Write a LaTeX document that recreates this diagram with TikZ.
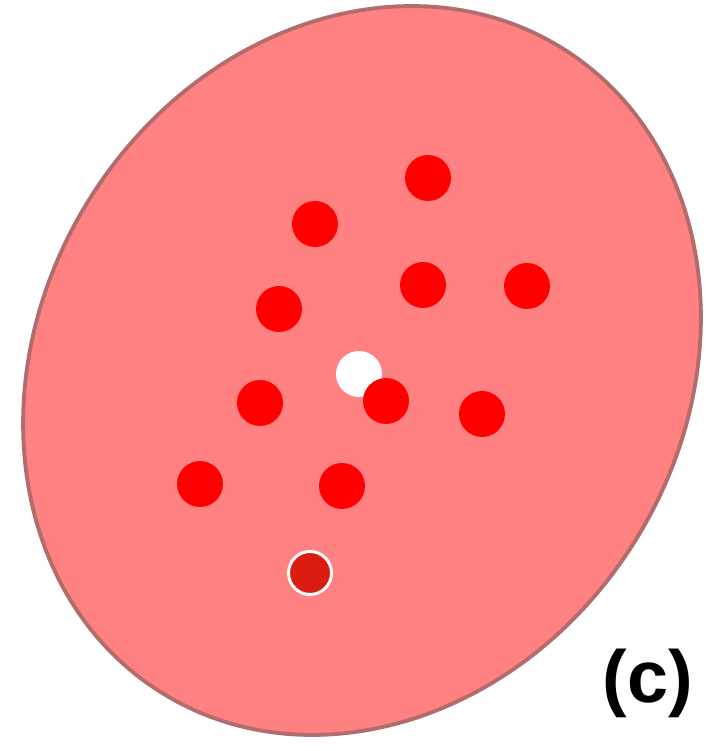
\documentclass[tikz,border=0pt]{standalone}
\usepackage{fontspec}
\usepackage{tikz}
\usetikzlibrary{shapes.geometric}
\newfontfamily\labelfont{Liberation Sans}
\definecolor{CellPink}{HTML}{FF8181}
\definecolor{CellRim}{HTML}{B26C6C}
\definecolor{DotRed}{HTML}{FF0000}
\definecolor{DotDark}{HTML}{DA1C12}
\tikzset{
  cellbody/.style={ellipse, draw=CellRim, fill=CellPink, line width=2.2pt, inner sep=0pt},
  dot/.style={circle, fill=DotRed, inner sep=0pt, minimum size=0.92cm},
  whitedot/.style={dot, fill=white},
  markdot/.style={circle, fill=DotDark, draw=white, line width=1.7pt, inner sep=0pt, minimum size=0.86cm},
  panellabel/.style={font=\labelfont\bfseries\fontsize{42}{50}\selectfont, inner sep=0pt}
}
\begin{document}
\begin{tikzpicture}[x=0.02cm, y=0.02cm]
\useasboundingbox (0,0) rectangle (717,751);
\node[cellbody, rotate=58.2, minimum width=15.18cm, minimum height=12.88cm] (cell) at (362,380.5) {};
% particles
\node[dot] (p1) at (428,573) {};
\node[dot] (p2) at (315,527) {};
\node[dot] (p3) at (423,466) {};
\node[dot] (p4) at (527,465) {};
\node[dot] (p5) at (279,442) {};
\node[whitedot] (centre) at (359,377) {};
\node[dot] (p6) at (260,348) {};
\node[dot] (p7) at (386,350) {};
\node[dot] (p8) at (482,337) {};
\node[dot] (p9) at (200,267) {};
\node[dot] (p10) at (342,265) {};
\node[markdot] (probe) at (310,178) {};
\node[panellabel] (tag) at (648,68) {(c)};
\end{tikzpicture}
\end{document}
